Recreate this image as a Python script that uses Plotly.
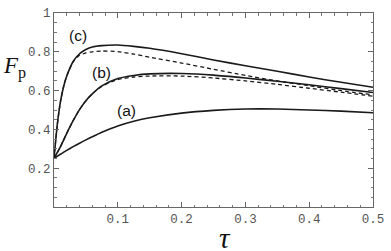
import plotly.graph_objects as go

tau = [0, 0.005, 0.01, 0.015, 0.02, 0.03, 0.04, 0.05, 0.06, 0.075, 0.1,
       0.125, 0.15, 0.2, 0.25, 0.3, 0.35, 0.4, 0.45, 0.5]

curve_a = [0.25, 0.261, 0.272, 0.282, 0.292, 0.311, 0.329, 0.346, 0.362, 0.385, 0.418,
           0.442, 0.46, 0.484, 0.498, 0.505, 0.505, 0.50, 0.494, 0.486]
curve_b = [0.25, 0.28, 0.31, 0.345, 0.38, 0.445, 0.502, 0.548, 0.583, 0.624, 0.662,
           0.678, 0.686, 0.688, 0.68, 0.665, 0.648, 0.63, 0.61, 0.59]
curve_b_dash = [0.25, 0.28, 0.31, 0.345, 0.38, 0.445, 0.502, 0.548, 0.583, 0.622, 0.657,
                0.670, 0.675, 0.675, 0.665, 0.65, 0.632, 0.612, 0.592, 0.571]
curve_c = [0.25, 0.42, 0.54, 0.62, 0.675, 0.75, 0.79, 0.812, 0.825, 0.832, 0.835,
           0.828, 0.818, 0.79, 0.758, 0.728, 0.70, 0.67, 0.643, 0.617]
curve_c_dash = [0.25, 0.42, 0.54, 0.62, 0.675, 0.748, 0.782, 0.795, 0.80, 0.804, 0.801,
                0.788, 0.772, 0.742, 0.71, 0.678, 0.65, 0.625, 0.60, 0.578]

labels = ["(a)", "(b)", "(c)"]
label_tau = [0.114, 0.075, 0.038]
label_f = [0.50, 0.693, 0.885]

x_ticks = [0.1, 0.2, 0.3, 0.4, 0.5]
x_ticktext = ["0.1", "0.2", "0.3", "0.4", "0.5"]
y_ticks = [0.2, 0.4, 0.6, 0.8, 1.0]
y_ticktext = ["0.2", "0.4", "0.6", "0.8", "1"]

fig = go.Figure()
solid = dict(color="#1a1a1a", width=1.6)
dashed = dict(color="#1a1a1a", width=1.3, dash="4px,3px")
for y in [curve_b_dash, curve_c_dash]:
    fig.add_trace(go.Scatter(x=tau, y=y, mode="lines", hoverinfo="skip",
                             line=dict(**dashed, shape="spline", smoothing=0.6)))
for y in [curve_a, curve_b, curve_c]:
    fig.add_trace(go.Scatter(x=tau, y=y, mode="lines", hoverinfo="skip",
                             line=dict(**solid, shape="spline", smoothing=0.6)))

for t, xv, yv in zip(labels, label_tau, label_f):
    fig.add_annotation(x=xv, y=yv, text=t, showarrow=False,
                       xanchor="center", yanchor="middle",
                       font=dict(family="Liberation Sans", size=15.5, color="#111"))

fig.add_annotation(xref="paper", yref="paper", x=-0.124, y=0.72,
                   xanchor="center", yanchor="middle",
                   text="<i>F</i><sub>p</sub>", showarrow=False,
                   font=dict(family="Liberation Serif", size=23, color="#111"))
fig.add_annotation(xref="paper", yref="paper", x=0.536, y=-0.16,
                   xanchor="center", yanchor="middle",
                   text="<i>τ</i>", showarrow=False,
                   font=dict(family="Liberation Serif", size=29, color="#111"))

axis_common = dict(showline=True, mirror="ticks", linecolor="#666", linewidth=1,
                   ticks="inside", ticklen=5, tickcolor="#666", tickwidth=1,
                   showgrid=False, zeroline=False,
                   tickfont=dict(family="Liberation Mono", size=12.5, color="#555"))

fig.update_xaxes(range=[0, 0.5], tickvals=x_ticks, ticktext=x_ticktext,
                 minor=dict(dtick=0.02, tick0=0, ticks="inside", ticklen=2.5,
                            tickcolor="#777"),
                 **axis_common)
fig.update_yaxes(range=[0, 1], tickvals=y_ticks, ticktext=y_ticktext,
                 minor=dict(dtick=0.05, tick0=0, ticks="inside", ticklen=2.5,
                            tickcolor="#777"),
                 **axis_common)

fig.update_layout(width=391, height=251, showlegend=False,
                  margin=dict(l=54, r=14, t=7, b=44, pad=0),
                  paper_bgcolor="white", plot_bgcolor="white")

fig.write_html("out.html", config={"displayModeBar": False},
               post_script="document.body.style.margin='0';document.body.style.overflow='hidden';")
